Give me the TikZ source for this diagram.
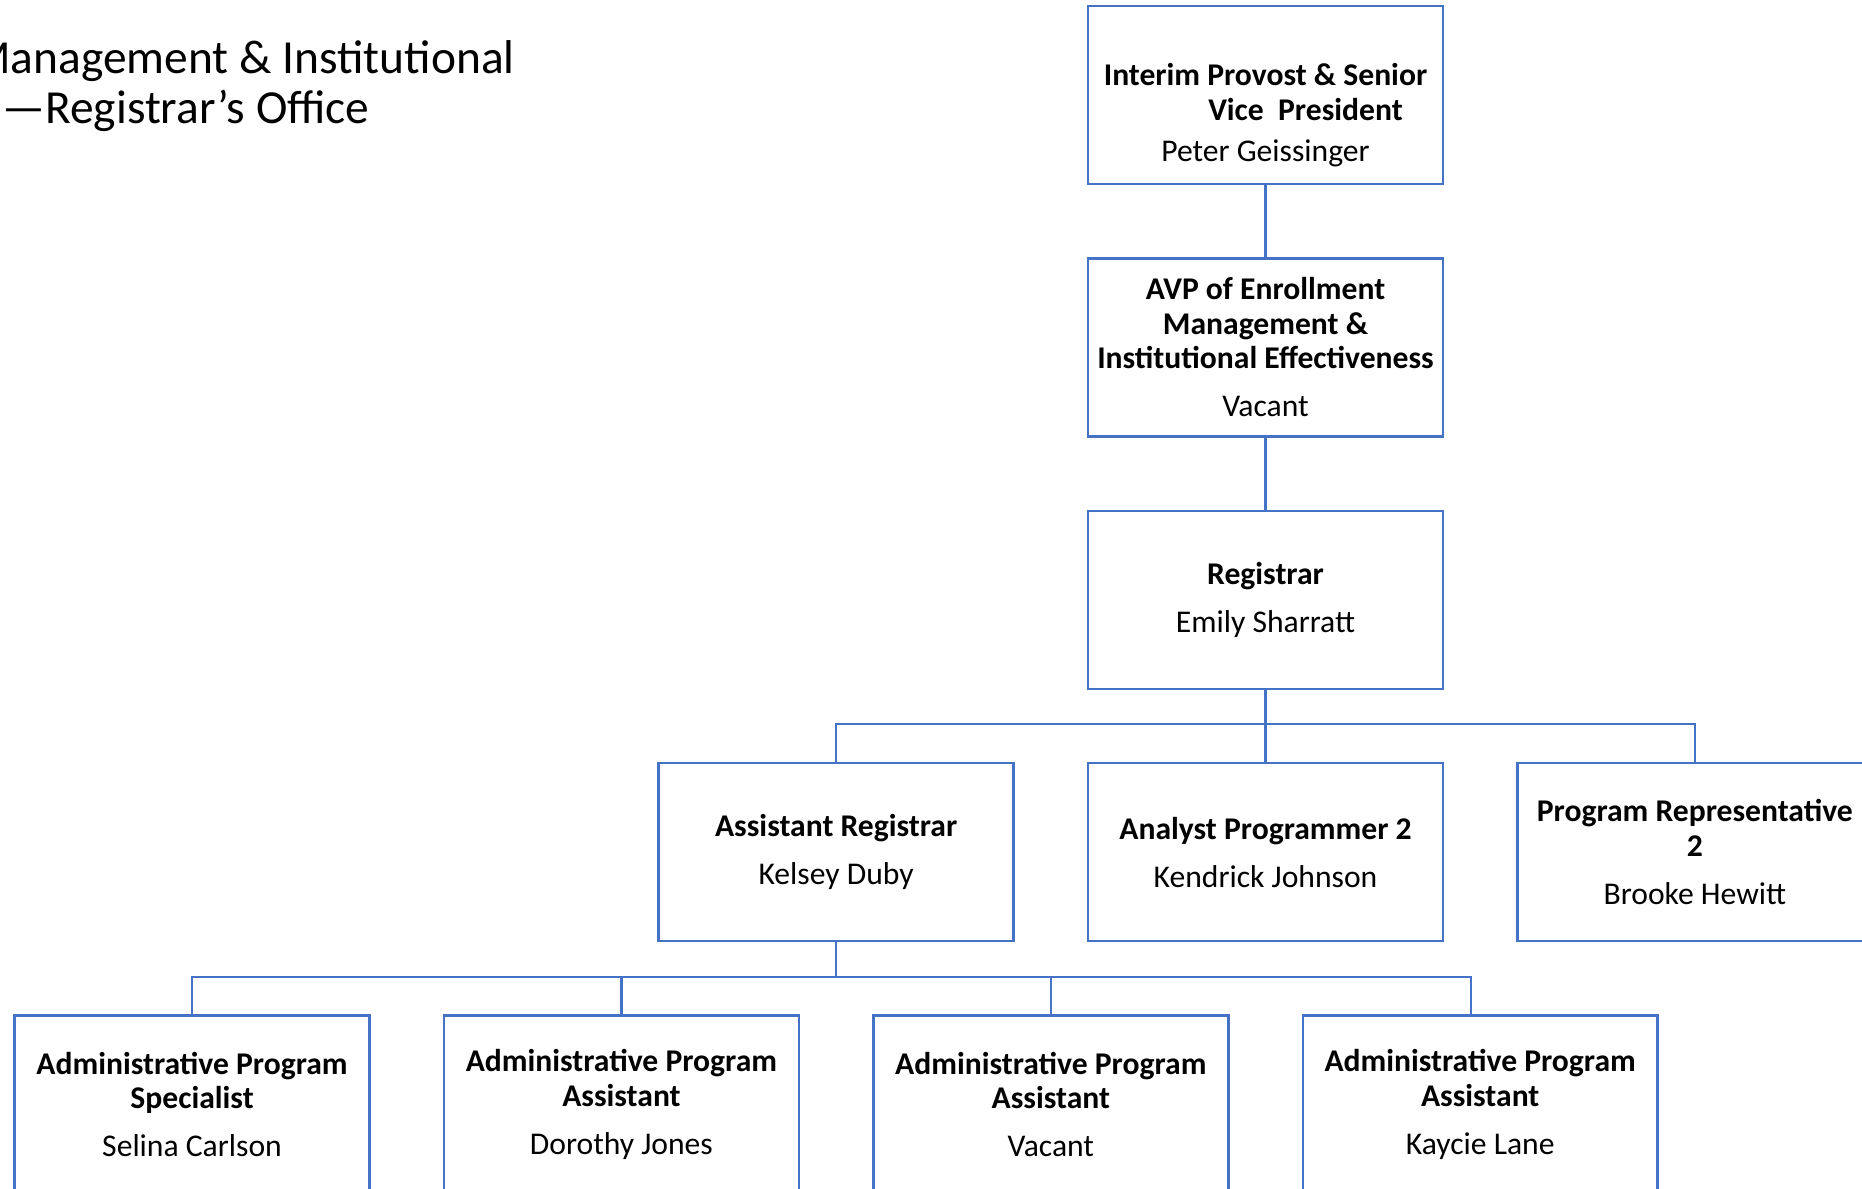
\documentclass[tikz,border=0pt]{standalone}
\usepackage{fontspec}
\setmainfont{Carlito}
\usepackage{xcolor}
\usepackage{tikz}
\usetikzlibrary{positioning}
\definecolor{orgblue}{HTML}{4472C4}
\tikzset{
    every node/.style={font=\fontsize{18}{19.5}\selectfont},
    orgbox/.style={draw=orgblue, line width=1.4pt, rectangle, align=center,
        minimum width=7.1cm, minimum height=3.56cm, inner sep=2pt},
    orglink/.style={draw=orgblue, line width=1.4pt}
}

\begin{document}
\begin{tikzpicture}[x=0.02cm, y=0.02cm, node distance=1.44cm]
        \useasboundingbox (0,0) rectangle (1862,-1189);
        \clip (0,0) rectangle (1862,-1189);

        % heading, cut at the left edge
        \node[anchor=base east, inner sep=0pt, font=\fontsize{27}{32}\selectfont] (headA) at (515,-74) {Management \& Institutional};
        \node[anchor=base west, inner sep=0pt, font=\fontsize{27}{32}\selectfont] (headB) at (2,-124) {—Registrar’s Office};

        % chain of command
        \node[orgbox] (provost) at (1265.5,-95) {\rule{0pt}{1.25cm}\textbf{Interim Provost \& Senior}\\\hspace*{1.6cm}\textbf{Vice\ \ President}\\[4pt]Peter Geissinger};
        \node[orgbox, below=of provost] (avp) {\textbf{AVP of Enrollment}\\\textbf{Management \&}\\\textbf{Institutional Effectiveness}\\[8pt]Vacant};
        \node[orgbox, below=of avp] (registrar) {\textbf{Registrar}\\[8pt]Emily Sharratt};

        % staff under the registrar
        \node[orgbox, below=of registrar] (analyst) {\textbf{Analyst Programmer 2}\\[8pt]Kendrick Johnson};
        \node[orgbox, left=of analyst] (asstreg) {\textbf{Assistant Registrar}\\[8pt]Kelsey Duby};
        \node[orgbox, right=of analyst] (progrep) {\textbf{Program Representative}\\\textbf{2}\\[8pt]Brooke Hewitt};

        % staff under the assistant registrar
        \node[orgbox, anchor=north east] (apa1) at ([xshift=-0.72cm, yshift=-1.44cm]asstreg.south) {\textbf{Administrative Program}\\\textbf{Assistant}\\[8pt]Dorothy Jones};
        \node[orgbox, left=of apa1] (aps) {\textbf{Administrative Program}\\\textbf{Specialist}\\[8pt]Selina Carlson};
        \node[orgbox, anchor=north west] (apa2) at ([xshift=0.72cm, yshift=-1.44cm]asstreg.south) {\textbf{Administrative Program}\\\textbf{Assistant}\\[8pt]Vacant};
        \node[orgbox, right=of apa2] (apa3) {\textbf{Administrative Program}\\\textbf{Assistant}\\[8pt]Kaycie Lane};

        \coordinate (busA) at (0,-724);
        \coordinate (busB) at (0,-977);

        \draw[orglink] (provost) -- (avp);
        \draw[orglink] (avp) -- (registrar);
        \draw[orglink] (registrar) -- (analyst);
        \draw[orglink] (registrar.south) -- (registrar.south |- busA) -| (asstreg.north);
        \draw[orglink] (registrar.south) -- (registrar.south |- busA) -| (progrep.north);
        \draw[orglink] (asstreg.south) -- (asstreg.south |- busB) -| (aps.north);
        \draw[orglink] (asstreg.south) -- (asstreg.south |- busB) -| (apa1.north);
        \draw[orglink] (asstreg.south) -- (asstreg.south |- busB) -| (apa2.north);
        \draw[orglink] (asstreg.south) -- (asstreg.south |- busB) -| ([xshift=-0.18cm]apa3.north);
    \end{tikzpicture}
\end{document}
